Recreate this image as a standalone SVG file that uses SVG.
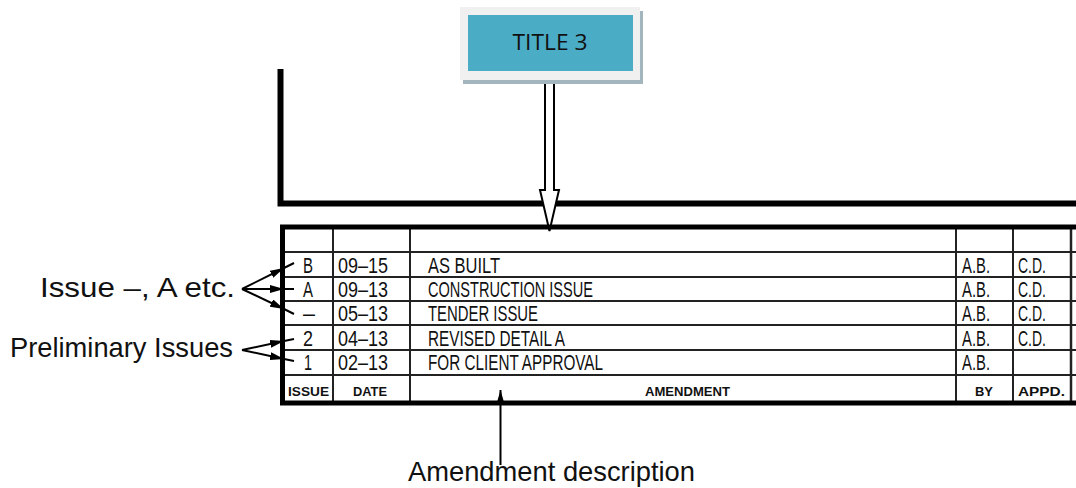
<svg xmlns="http://www.w3.org/2000/svg" width="1076" height="488" viewBox="0 0 1076 488">
  <style>
    .frame { fill: none; stroke: #000; stroke-width: 6; }
    .border { fill: none; stroke: #000; stroke-width: 5; }
    .grid { fill: none; stroke: #222; stroke-width: 2; }
    .cell { font-family: "Liberation Sans", Arial, sans-serif; font-size: 22px; fill: #111; }
    .head { font-family: "Liberation Sans", Arial, sans-serif; font-size: 13px; font-weight: bold; fill: #111; }
    .note { font-family: "Liberation Sans", Arial, sans-serif; font-size: 28px; fill: #111; }
    .title { font-family: "Open Sans", "Liberation Sans", sans-serif; font-size: 21px; fill: #111; }
    .lead { fill: none; stroke: #000; stroke-width: 2; }
  </style>
  <defs>
    <marker id="tip" viewBox="0 0 14 8" refX="14" refY="4" markerWidth="14" markerHeight="8" markerUnits="userSpaceOnUse" orient="auto">
      <path d="M0,0 L14,4 L0,8 Z" fill="#000"/>
    </marker>
  </defs>

  <!-- drawing frame above the title block -->
  <g id="frame">
    <path class="frame" d="M280.5,69 V203.5 H1076"/>
  </g>

  <!-- connectors -->
  <g id="connectors">
    <!-- block arrow from title box down to the table -->
    <polygon points="545,78 545,190 540,190 549.5,231 559,190 554,190 554,78" fill="#fff" stroke="#000" stroke-width="2"/>
    <!-- issue leaders -->
    <line class="lead" x1="242" y1="289" x2="284" y2="268" marker-end="url(#tip)"/>
    <line class="lead" x1="284" y1="268" x2="294" y2="263"/>
    <line class="lead" x1="242" y1="289" x2="284" y2="289" marker-end="url(#tip)"/>
    <line class="lead" x1="284" y1="289" x2="294" y2="289"/>
    <line class="lead" x1="242" y1="289" x2="284" y2="309" marker-end="url(#tip)"/>
    <line class="lead" x1="284" y1="309" x2="294" y2="314"/>
    <!-- preliminary leaders -->
    <line class="lead" x1="242" y1="350" x2="284" y2="341" marker-end="url(#tip)"/>
    <line class="lead" x1="284" y1="341" x2="294" y2="339"/>
    <line class="lead" x1="242" y1="350" x2="284" y2="359" marker-end="url(#tip)"/>
    <line class="lead" x1="284" y1="359" x2="294" y2="361"/>
    <!-- amendment leader -->
    <line class="lead" x1="500.5" y1="465" x2="500.5" y2="390" marker-end="url(#tip)"/>
  </g>

  <!-- title box -->
  <g id="title-3">
    <rect x="463" y="11" width="180" height="73" fill="#a3b6bd"/>
    <rect x="460" y="7" width="180" height="73" fill="#f0f0f0"/>
    <rect x="468" y="15" width="165" height="56" fill="#4bacc6"/>
    <text class="title" x="550" y="50" text-anchor="middle" textLength="75" lengthAdjust="spacingAndGlyphs">TITLE 3</text>
  </g>

  <!-- revision table -->
  <g id="revision-table">
    <g class="grid">
      <line x1="282" y1="252" x2="1076" y2="252"/>
      <line x1="282" y1="277" x2="1076" y2="277"/>
      <line x1="282" y1="301" x2="1076" y2="301"/>
      <line x1="282" y1="325" x2="1076" y2="325"/>
      <line x1="282" y1="350" x2="1076" y2="350"/>
      <line x1="282" y1="375" x2="1076" y2="375"/>
      <line x1="333" y1="227" x2="333" y2="403"/>
      <line x1="410" y1="227" x2="410" y2="403"/>
      <line x1="956" y1="227" x2="956" y2="403"/>
      <line x1="1013" y1="227" x2="1013" y2="403"/>
      <line x1="1071" y1="227" x2="1071" y2="403" stroke-width="2.5"/>
    </g>
    <path class="border" d="M1076,227 H282.5 V403 H1076"/>

    <!-- rows -->
    <g id="row-b">
      <text class="cell" x="308" y="273" text-anchor="middle" textLength="10" lengthAdjust="spacingAndGlyphs">B</text>
      <text class="cell" x="338" y="273" textLength="50" lengthAdjust="spacingAndGlyphs">09–15</text>
      <text class="cell" x="428" y="273" textLength="72" lengthAdjust="spacingAndGlyphs">AS BUILT</text>
      <text class="cell" x="962" y="273" textLength="28" lengthAdjust="spacingAndGlyphs">A.B.</text>
      <text class="cell" x="1018" y="273" textLength="28" lengthAdjust="spacingAndGlyphs">C.D.</text>
    </g>
    <g id="row-a">
      <text class="cell" x="308" y="297" text-anchor="middle" textLength="10" lengthAdjust="spacingAndGlyphs">A</text>
      <text class="cell" x="338" y="297" textLength="50" lengthAdjust="spacingAndGlyphs">09–13</text>
      <text class="cell" x="428" y="297" textLength="165" lengthAdjust="spacingAndGlyphs">CONSTRUCTION ISSUE</text>
      <text class="cell" x="962" y="297" textLength="28" lengthAdjust="spacingAndGlyphs">A.B.</text>
      <text class="cell" x="1018" y="297" textLength="28" lengthAdjust="spacingAndGlyphs">C.D.</text>
    </g>
    <g id="row-dash">
      <text class="cell" x="309" y="321" text-anchor="middle" textLength="12" lengthAdjust="spacingAndGlyphs">–</text>
      <text class="cell" x="338" y="321" textLength="50" lengthAdjust="spacingAndGlyphs">05–13</text>
      <text class="cell" x="428" y="321" textLength="110" lengthAdjust="spacingAndGlyphs">TENDER ISSUE</text>
      <text class="cell" x="962" y="321" textLength="28" lengthAdjust="spacingAndGlyphs">A.B.</text>
      <text class="cell" x="1018" y="321" textLength="28" lengthAdjust="spacingAndGlyphs">C.D.</text>
    </g>
    <g id="row-2">
      <text class="cell" x="308" y="346" text-anchor="middle" textLength="10" lengthAdjust="spacingAndGlyphs">2</text>
      <text class="cell" x="338" y="346" textLength="50" lengthAdjust="spacingAndGlyphs">04–13</text>
      <text class="cell" x="428" y="346" textLength="137" lengthAdjust="spacingAndGlyphs">REVISED DETAIL A</text>
      <text class="cell" x="962" y="346" textLength="28" lengthAdjust="spacingAndGlyphs">A.B.</text>
      <text class="cell" x="1018" y="346" textLength="28" lengthAdjust="spacingAndGlyphs">C.D.</text>
    </g>
    <g id="row-1">
      <text class="cell" x="308" y="370" text-anchor="middle" textLength="8" lengthAdjust="spacingAndGlyphs">1</text>
      <text class="cell" x="338" y="370" textLength="50" lengthAdjust="spacingAndGlyphs">02–13</text>
      <text class="cell" x="428" y="370" textLength="175" lengthAdjust="spacingAndGlyphs">FOR CLIENT APPROVAL</text>
      <text class="cell" x="962" y="370" textLength="28" lengthAdjust="spacingAndGlyphs">A.B.</text>
    </g>
    <g id="header-row">
      <text class="head" x="288" y="396" textLength="41" lengthAdjust="spacingAndGlyphs">ISSUE</text>
      <text class="head" x="353" y="396" textLength="34" lengthAdjust="spacingAndGlyphs">DATE</text>
      <text class="head" x="645" y="396" textLength="85" lengthAdjust="spacingAndGlyphs">AMENDMENT</text>
      <text class="head" x="975" y="396" textLength="18" lengthAdjust="spacingAndGlyphs">BY</text>
      <text class="head" x="1018" y="396" textLength="47" lengthAdjust="spacingAndGlyphs">APPD.</text>
    </g>
  </g>

  <!-- annotations -->
  <g id="label-issue">
    <text class="note" x="40" y="297" textLength="195" lengthAdjust="spacingAndGlyphs">Issue –, A etc.</text>
  </g>
  <g id="label-preliminary">
    <text class="note" x="10" y="357" textLength="223" lengthAdjust="spacingAndGlyphs">Preliminary Issues</text>
  </g>
  <g id="label-amendment">
    <text class="note" x="408" y="481" font-size="27" textLength="287" lengthAdjust="spacingAndGlyphs">Amendment description</text>
  </g>
</svg>
